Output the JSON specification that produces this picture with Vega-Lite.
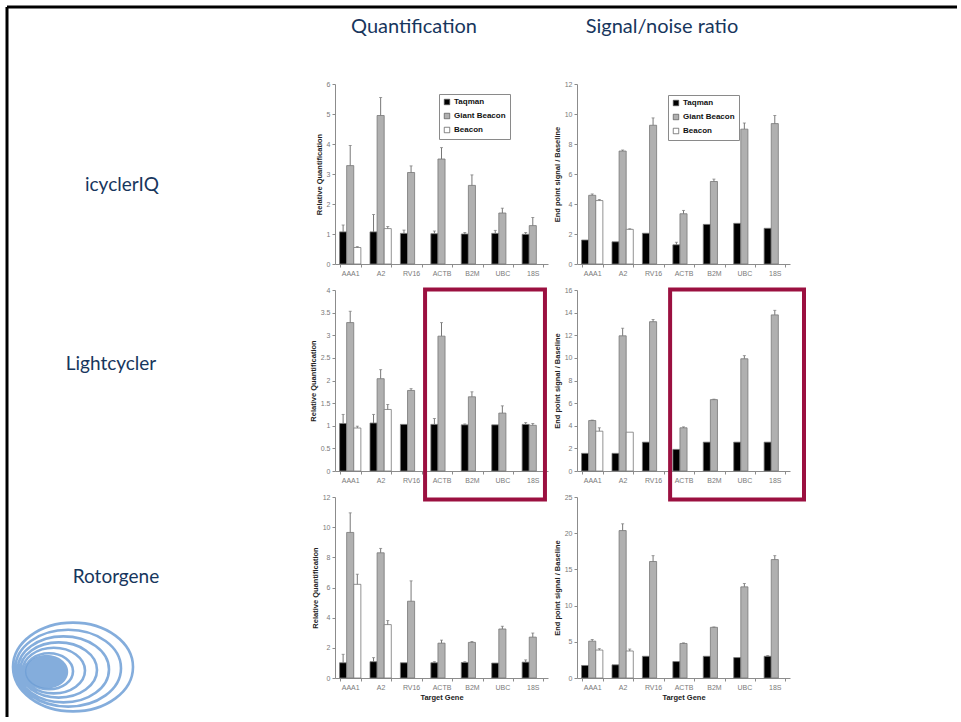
{
  "$schema": "https://vega.github.io/schema/vega-lite/v6.json",
  "padding": {"left": 5, "top": 5, "right": 0, "bottom": 0},
  "background": "white",
  "bounds": "flush",
  "align": "each",
  "columns": 3,
  "spacing": {"row": 26, "column": 29},
  "resolve": {"scale": {"fill": "independent"}, "legend": {"fill": "independent"}},
  "config": {
    "view": {"stroke": null},
    "font": "Liberation Sans",
    "axis": {"domainColor": "#8c8c8c", "tickColor": "#8c8c8c", "labelColor": "#7a7a7a", "labelFontSize": 7, "tickSize": 3, "labelPadding": 2, "titleFontSize": 7.5, "titleFontWeight": "bold", "titleColor": "#222222", "grid": false, "domainWidth": 1, "tickWidth": 1, "titlePadding": 3},
    "axisX": {"tickBand": "extent", "labelAngle": 0},
    "legend": {"title": null, "strokeColor": "#8a8a8a", "fillColor": "white", "padding": 4, "labelFontSize": 8, "labelFontWeight": "bold", "labelColor": "#111111", "symbolType": "square", "symbolSize": 30, "symbolStrokeColor": "#555555", "symbolStrokeWidth": 0.7, "rowPadding": 4, "labelOffset": 3}
  },
  "datasets": {
    "d": [
      {"p":"q1","g":"AAA1","s":"Taqman","v":1.07,"hi":1.3},
      {"p":"q1","g":"AAA1","s":"Giant Beacon","v":3.28,"hi":3.95},
      {"p":"q1","g":"AAA1","s":"Beacon","v":0.55,"hi":0.58},
      {"p":"q1","g":"A2","s":"Taqman","v":1.07,"hi":1.65},
      {"p":"q1","g":"A2","s":"Giant Beacon","v":4.95,"hi":5.55},
      {"p":"q1","g":"A2","s":"Beacon","v":1.18,"hi":1.25},
      {"p":"q1","g":"RV16","s":"Taqman","v":1.02,"hi":1.13},
      {"p":"q1","g":"RV16","s":"Giant Beacon","v":3.05,"hi":3.27},
      {"p":"q1","g":"ACTB","s":"Taqman","v":1.01,"hi":1.1},
      {"p":"q1","g":"ACTB","s":"Giant Beacon","v":3.5,"hi":3.88},
      {"p":"q1","g":"B2M","s":"Taqman","v":1.0,"hi":1.05},
      {"p":"q1","g":"B2M","s":"Giant Beacon","v":2.62,"hi":2.97},
      {"p":"q1","g":"UBC","s":"Taqman","v":1.02,"hi":1.12},
      {"p":"q1","g":"UBC","s":"Giant Beacon","v":1.7,"hi":1.86},
      {"p":"q1","g":"18S","s":"Taqman","v":0.99,"hi":1.05},
      {"p":"q1","g":"18S","s":"Giant Beacon","v":1.28,"hi":1.55},

      {"p":"s1","g":"AAA1","s":"Taqman","v":1.6,"hi":1.6},
      {"p":"s1","g":"AAA1","s":"Giant Beacon","v":4.58,"hi":4.67},
      {"p":"s1","g":"AAA1","s":"Beacon","v":4.23,"hi":4.3},
      {"p":"s1","g":"A2","s":"Taqman","v":1.48,"hi":1.48},
      {"p":"s1","g":"A2","s":"Giant Beacon","v":7.53,"hi":7.6},
      {"p":"s1","g":"A2","s":"Beacon","v":2.31,"hi":2.35},
      {"p":"s1","g":"RV16","s":"Taqman","v":2.05,"hi":2.05},
      {"p":"s1","g":"RV16","s":"Giant Beacon","v":9.25,"hi":9.74},
      {"p":"s1","g":"ACTB","s":"Taqman","v":1.28,"hi":1.45},
      {"p":"s1","g":"ACTB","s":"Giant Beacon","v":3.35,"hi":3.57},
      {"p":"s1","g":"B2M","s":"Taqman","v":2.64,"hi":2.64},
      {"p":"s1","g":"B2M","s":"Giant Beacon","v":5.5,"hi":5.66},
      {"p":"s1","g":"UBC","s":"Taqman","v":2.71,"hi":2.71},
      {"p":"s1","g":"UBC","s":"Giant Beacon","v":8.99,"hi":9.4},
      {"p":"s1","g":"18S","s":"Taqman","v":2.38,"hi":2.38},
      {"p":"s1","g":"18S","s":"Giant Beacon","v":9.36,"hi":9.9},

      {"p":"q2","g":"AAA1","s":"Taqman","v":1.05,"hi":1.25},
      {"p":"q2","g":"AAA1","s":"Giant Beacon","v":3.28,"hi":3.53},
      {"p":"q2","g":"AAA1","s":"Beacon","v":0.95,"hi":0.99},
      {"p":"q2","g":"A2","s":"Taqman","v":1.06,"hi":1.25},
      {"p":"q2","g":"A2","s":"Giant Beacon","v":2.04,"hi":2.24},
      {"p":"q2","g":"A2","s":"Beacon","v":1.36,"hi":1.47},
      {"p":"q2","g":"RV16","s":"Taqman","v":1.03,"hi":1.03},
      {"p":"q2","g":"RV16","s":"Giant Beacon","v":1.78,"hi":1.82},
      {"p":"q2","g":"ACTB","s":"Taqman","v":1.03,"hi":1.16},
      {"p":"q2","g":"ACTB","s":"Giant Beacon","v":2.98,"hi":3.28},
      {"p":"q2","g":"B2M","s":"Taqman","v":1.02,"hi":1.04},
      {"p":"q2","g":"B2M","s":"Giant Beacon","v":1.64,"hi":1.75},
      {"p":"q2","g":"UBC","s":"Taqman","v":1.02,"hi":1.02},
      {"p":"q2","g":"UBC","s":"Giant Beacon","v":1.28,"hi":1.44},
      {"p":"q2","g":"18S","s":"Taqman","v":1.03,"hi":1.07},
      {"p":"q2","g":"18S","s":"Giant Beacon","v":1.01,"hi":1.05},

      {"p":"s2","g":"AAA1","s":"Taqman","v":1.56,"hi":1.56},
      {"p":"s2","g":"AAA1","s":"Giant Beacon","v":4.46,"hi":4.5},
      {"p":"s2","g":"AAA1","s":"Beacon","v":3.52,"hi":3.82},
      {"p":"s2","g":"A2","s":"Taqman","v":1.56,"hi":1.56},
      {"p":"s2","g":"A2","s":"Giant Beacon","v":11.95,"hi":12.62},
      {"p":"s2","g":"A2","s":"Beacon","v":3.43,"hi":3.43},
      {"p":"s2","g":"RV16","s":"Taqman","v":2.55,"hi":2.55},
      {"p":"s2","g":"RV16","s":"Giant Beacon","v":13.2,"hi":13.39},
      {"p":"s2","g":"ACTB","s":"Taqman","v":1.91,"hi":1.91},
      {"p":"s2","g":"ACTB","s":"Giant Beacon","v":3.82,"hi":3.9},
      {"p":"s2","g":"B2M","s":"Taqman","v":2.55,"hi":2.55},
      {"p":"s2","g":"B2M","s":"Giant Beacon","v":6.31,"hi":6.35},
      {"p":"s2","g":"UBC","s":"Taqman","v":2.55,"hi":2.55},
      {"p":"s2","g":"UBC","s":"Giant Beacon","v":9.92,"hi":10.2},
      {"p":"s2","g":"18S","s":"Taqman","v":2.55,"hi":2.55},
      {"p":"s2","g":"18S","s":"Giant Beacon","v":13.8,"hi":14.2},

      {"p":"q3","g":"AAA1","s":"Taqman","v":1.01,"hi":1.57},
      {"p":"q3","g":"AAA1","s":"Giant Beacon","v":9.65,"hi":10.95},
      {"p":"q3","g":"AAA1","s":"Beacon","v":6.21,"hi":6.88},
      {"p":"q3","g":"A2","s":"Taqman","v":1.08,"hi":1.35},
      {"p":"q3","g":"A2","s":"Giant Beacon","v":8.3,"hi":8.59},
      {"p":"q3","g":"A2","s":"Beacon","v":3.54,"hi":3.81},
      {"p":"q3","g":"RV16","s":"Taqman","v":1.01,"hi":1.01},
      {"p":"q3","g":"RV16","s":"Giant Beacon","v":5.09,"hi":6.44},
      {"p":"q3","g":"ACTB","s":"Taqman","v":1.01,"hi":1.08},
      {"p":"q3","g":"ACTB","s":"Giant Beacon","v":2.31,"hi":2.51},
      {"p":"q3","g":"B2M","s":"Taqman","v":1.03,"hi":1.08},
      {"p":"q3","g":"B2M","s":"Giant Beacon","v":2.36,"hi":2.42},
      {"p":"q3","g":"UBC","s":"Taqman","v":0.99,"hi":0.99},
      {"p":"q3","g":"UBC","s":"Giant Beacon","v":3.25,"hi":3.43},
      {"p":"q3","g":"18S","s":"Taqman","v":1.05,"hi":1.2},
      {"p":"q3","g":"18S","s":"Giant Beacon","v":2.71,"hi":2.98},

      {"p":"s3","g":"AAA1","s":"Taqman","v":1.73,"hi":1.73},
      {"p":"s3","g":"AAA1","s":"Giant Beacon","v":5.09,"hi":5.32},
      {"p":"s3","g":"AAA1","s":"Beacon","v":3.86,"hi":4.05},
      {"p":"s3","g":"A2","s":"Taqman","v":1.82,"hi":1.82},
      {"p":"s3","g":"A2","s":"Giant Beacon","v":20.36,"hi":21.3},
      {"p":"s3","g":"A2","s":"Beacon","v":3.73,"hi":4.0},
      {"p":"s3","g":"RV16","s":"Taqman","v":3.0,"hi":3.0},
      {"p":"s3","g":"RV16","s":"Giant Beacon","v":16.09,"hi":16.9},
      {"p":"s3","g":"ACTB","s":"Taqman","v":2.27,"hi":2.27},
      {"p":"s3","g":"ACTB","s":"Giant Beacon","v":4.77,"hi":4.85},
      {"p":"s3","g":"B2M","s":"Taqman","v":3.0,"hi":3.0},
      {"p":"s3","g":"B2M","s":"Giant Beacon","v":7.0,"hi":7.05},
      {"p":"s3","g":"UBC","s":"Taqman","v":2.82,"hi":2.82},
      {"p":"s3","g":"UBC","s":"Giant Beacon","v":12.59,"hi":13.05},
      {"p":"s3","g":"18S","s":"Taqman","v":3.0,"hi":3.1},
      {"p":"s3","g":"18S","s":"Giant Beacon","v":16.36,"hi":16.9}
    ]
  },
  "concat": [
    {
      "width": 299,
      "height": 51,
      "layer": [
        {
          "data": {"values": [{"x": 0, "y": 0, "x2": 0, "y2": 710}, {"x": 0, "y": 0, "x2": 950, "y2": 0}]},
          "mark": {"type": "rule", "color": "black", "strokeWidth": 3},
          "encoding": {
            "x": {"field": "x", "type": "quantitative", "scale": {"domain": [0, 299], "nice": false, "zero": false}, "axis": null},
            "x2": {"field": "x2"},
            "y": {"field": "y", "type": "quantitative", "scale": {"domain": [0, 51], "nice": false, "zero": false, "reverse": true}, "axis": null},
            "y2": {"field": "y2"}
          }
        },
        {
          "data": {"values": [{"x": 66, "y": 660}]},
          "mark": {"type": "point", "shape": "M -0.8 0.08 A 0.36 0.28 0 1 0 -0.08 0.08 A 0.36 0.28 0 1 0 -0.8 0.08 Z", "size": 14400, "filled": true, "fill": "#6f9fd6", "opacity": 0.85, "strokeWidth": 0},
          "encoding": {
            "x": {"field": "x", "type": "quantitative", "axis": null},
            "y": {"field": "y", "type": "quantitative", "axis": null}
          }
        },
        {
          "data": {"values": [{"x": 66, "y": 660}]},
          "mark": {"type": "point", "shape": "M -1 0 A 1 0.74 0 1 0 1 0 A 1 0.74 0 1 0 -1 0 Z M -0.96 0.02 A 0.88 0.64 0 1 0 0.8 0.02 A 0.88 0.64 0 1 0 -0.96 0.02 Z M -0.92 0.04 A 0.76 0.55 0 1 0 0.6 0.04 A 0.76 0.55 0 1 0 -0.92 0.04 Z M -0.88 0.05 A 0.64 0.46 0 1 0 0.4 0.05 A 0.64 0.46 0 1 0 -0.88 0.05 Z M -0.84 0.06 A 0.52 0.38 0 1 0 0.2 0.06 A 0.52 0.38 0 1 0 -0.84 0.06 Z M -0.8 0.07 A 0.4 0.3 0 1 0 0 0.07 A 0.4 0.3 0 1 0 -0.8 0.07 Z", "size": 14400, "filled": false, "stroke": "#6f9fd6", "strokeWidth": 2.6, "opacity": 0.85},
          "encoding": {
            "x": {"field": "x", "type": "quantitative", "axis": null},
            "y": {"field": "y", "type": "quantitative", "axis": null}
          }
        }
      ]
    },
    {
      "width": 213,
      "height": 51,
      "data": {"values": [{"t": "Quantification", "x": 79, "y": 20}]},
      "mark": {"type": "text", "font": "Lato", "fontSize": 20, "color": "#17365d", "align": "center", "baseline": "middle"},
      "encoding": {
        "x": {"field": "x", "type": "quantitative", "scale": {"domain": [0, 213], "nice": false, "zero": false}, "axis": null},
        "y": {"field": "y", "type": "quantitative", "scale": {"domain": [0, 51], "nice": false, "zero": false, "reverse": true}, "axis": null},
        "text": {"field": "t"}
      }
    },
    {
      "width": 213,
      "height": 51,
      "data": {"values": [{"t": "Signal/noise ratio", "x": 85, "y": 20}]},
      "mark": {"type": "text", "font": "Lato", "fontSize": 20, "color": "#17365d", "align": "center", "baseline": "middle"},
      "encoding": {
        "x": {"field": "x", "type": "quantitative", "scale": {"domain": [0, 213], "nice": false, "zero": false}, "axis": null},
        "y": {"field": "y", "type": "quantitative", "scale": {"domain": [0, 51], "nice": false, "zero": false, "reverse": true}, "axis": null},
        "text": {"field": "t"}
      }
    },
    {
      "width": 299,
      "height": 180,
      "data": {"values": [{"t": "icyclerIQ", "x": 115, "y": 101}]},
      "mark": {"type": "text", "font": "Lato", "fontSize": 19, "color": "#17365d", "align": "center", "baseline": "middle"},
      "encoding": {
        "x": {"field": "x", "type": "quantitative", "scale": {"domain": [0, 299], "nice": false, "zero": false}, "axis": null},
        "y": {"field": "y", "type": "quantitative", "scale": {"domain": [0, 180], "nice": false, "zero": false, "reverse": true}, "axis": null},
        "text": {"field": "t"}
      }
    },
    {
      "width": 213, "height": 180,
      "data": {"name": "d"},
      "layer": [
        {
          "transform": [{"filter": "datum.p === 'q1'"}],
          "mark": {"type": "bar", "stroke": "#777777", "strokeWidth": 0.8},
          "encoding": {
            "x": {"field": "g", "type": "nominal", "scale": {"domain": ["AAA1","A2","RV16","ACTB","B2M","UBC","18S"], "paddingInner": 0.3, "paddingOuter": 0.15}, "axis": {"title": null, "orient": "bottom"}},
            "xOffset": {"field": "s", "scale": {"domain": ["Taqman","Giant Beacon","Beacon"], "paddingInner": 0, "paddingOuter": 0}},
            "y": {"field": "v", "type": "quantitative", "scale": {"domain": [0, 6], "nice": false}, "axis": {"values": [0,1,2,3,4,5,6], "format": "~g", "title": "Relative Quantification", "orient": "left"}},
            "fill": {"field": "s", "type": "nominal", "scale": {"domain": ["Taqman","Giant Beacon","Beacon"], "range": ["#000000","#b0b0b0","#ffffff"]}, "legend": {"orient": "none", "legendX": 104, "legendY": 10}}
          }
        },
        {
          "transform": [{"filter": "datum.p === 'q1' && datum.hi > datum.v"}],
          "mark": {"type": "rule", "color": "#777777", "strokeWidth": 1},
          "encoding": {
            "x": {"field": "g", "type": "nominal", "scale": {"domain": ["AAA1","A2","RV16","ACTB","B2M","UBC","18S"], "paddingInner": 0.3, "paddingOuter": 0.15}, "axis": {"title": null, "orient": "bottom"}},
            "xOffset": {"field": "s", "scale": {"domain": ["Taqman","Giant Beacon","Beacon"], "paddingInner": 0, "paddingOuter": 0}},
            "y": {"field": "v", "type": "quantitative", "scale": {"domain": [0, 6], "nice": false}, "axis": {"values": [0,1,2,3,4,5,6], "format": "~g", "title": "Relative Quantification", "orient": "left"}},
            "y2": {"field": "hi"}
          }
        },
        {
          "transform": [{"filter": "datum.p === 'q1' && datum.hi > datum.v"}],
          "mark": {"type": "tick", "color": "#777777", "size": 3, "thickness": 1},
          "encoding": {
            "x": {"field": "g", "type": "nominal", "scale": {"domain": ["AAA1","A2","RV16","ACTB","B2M","UBC","18S"], "paddingInner": 0.3, "paddingOuter": 0.15}, "axis": {"title": null, "orient": "bottom"}},
            "xOffset": {"field": "s", "scale": {"domain": ["Taqman","Giant Beacon","Beacon"], "paddingInner": 0, "paddingOuter": 0}},
            "y": {"field": "hi", "type": "quantitative", "scale": {"domain": [0, 6], "nice": false}, "axis": {"values": [0,1,2,3,4,5,6], "format": "~g", "title": "Relative Quantification", "orient": "left"}}
          }
        }
      ]
    },
    {
      "width": 213, "height": 180,
      "data": {"name": "d"},
      "layer": [
        {
          "transform": [{"filter": "datum.p === 's1'"}],
          "mark": {"type": "bar", "stroke": "#777777", "strokeWidth": 0.8},
          "encoding": {
            "x": {"field": "g", "type": "nominal", "scale": {"domain": ["AAA1","A2","RV16","ACTB","B2M","UBC","18S"], "paddingInner": 0.3, "paddingOuter": 0.15}, "axis": {"title": null, "orient": "bottom"}},
            "xOffset": {"field": "s", "scale": {"domain": ["Taqman","Giant Beacon","Beacon"], "paddingInner": 0, "paddingOuter": 0}},
            "y": {"field": "v", "type": "quantitative", "scale": {"domain": [0, 12], "nice": false}, "axis": {"values": [0,2,4,6,8,10,12], "format": "~g", "title": "End point signal / Baseline", "orient": "left"}},
            "fill": {"field": "s", "type": "nominal", "scale": {"domain": ["Taqman","Giant Beacon","Beacon"], "range": ["#000000","#b0b0b0","#ffffff"]}, "legend": {"orient": "none", "legendX": 91, "legendY": 11}}
          }
        },
        {
          "transform": [{"filter": "datum.p === 's1' && datum.hi > datum.v"}],
          "mark": {"type": "rule", "color": "#777777", "strokeWidth": 1},
          "encoding": {
            "x": {"field": "g", "type": "nominal", "scale": {"domain": ["AAA1","A2","RV16","ACTB","B2M","UBC","18S"], "paddingInner": 0.3, "paddingOuter": 0.15}, "axis": {"title": null, "orient": "bottom"}},
            "xOffset": {"field": "s", "scale": {"domain": ["Taqman","Giant Beacon","Beacon"], "paddingInner": 0, "paddingOuter": 0}},
            "y": {"field": "v", "type": "quantitative", "scale": {"domain": [0, 12], "nice": false}, "axis": {"values": [0,2,4,6,8,10,12], "format": "~g", "title": "End point signal / Baseline", "orient": "left"}},
            "y2": {"field": "hi"}
          }
        },
        {
          "transform": [{"filter": "datum.p === 's1' && datum.hi > datum.v"}],
          "mark": {"type": "tick", "color": "#777777", "size": 3, "thickness": 1},
          "encoding": {
            "x": {"field": "g", "type": "nominal", "scale": {"domain": ["AAA1","A2","RV16","ACTB","B2M","UBC","18S"], "paddingInner": 0.3, "paddingOuter": 0.15}, "axis": {"title": null, "orient": "bottom"}},
            "xOffset": {"field": "s", "scale": {"domain": ["Taqman","Giant Beacon","Beacon"], "paddingInner": 0, "paddingOuter": 0}},
            "y": {"field": "hi", "type": "quantitative", "scale": {"domain": [0, 12], "nice": false}, "axis": {"values": [0,2,4,6,8,10,12], "format": "~g", "title": "End point signal / Baseline", "orient": "left"}}
          }
        }
      ]
    },
    {
      "width": 299,
      "height": 181,
      "data": {"values": [{"t": "Lightcycler", "x": 104, "y": 74}]},
      "mark": {"type": "text", "font": "Lato", "fontSize": 19, "color": "#17365d", "align": "center", "baseline": "middle"},
      "encoding": {
        "x": {"field": "x", "type": "quantitative", "scale": {"domain": [0, 299], "nice": false, "zero": false}, "axis": null},
        "y": {"field": "y", "type": "quantitative", "scale": {"domain": [0, 181], "nice": false, "zero": false, "reverse": true}, "axis": null},
        "text": {"field": "t"}
      }
    },
    {
      "width": 213, "height": 181,
      "data": {"name": "d"},
      "resolve": {"scale": {"x": "independent", "y": "independent"}},
      "layer": [
        {
          "layer": [
            {
              "transform": [{"filter": "datum.p === 'q2'"}],
              "mark": {"type": "bar", "stroke": "#777777", "strokeWidth": 0.8},
              "encoding": {
                "x": {"field": "g", "type": "nominal", "scale": {"domain": ["AAA1","A2","RV16","ACTB","B2M","UBC","18S"], "paddingInner": 0.3, "paddingOuter": 0.15}, "axis": {"title": null, "orient": "bottom"}},
                "xOffset": {"field": "s", "scale": {"domain": ["Taqman","Giant Beacon","Beacon"], "paddingInner": 0, "paddingOuter": 0}},
                "y": {"field": "v", "type": "quantitative", "scale": {"domain": [0, 4], "nice": false}, "axis": {"values": [0,0.5,1,1.5,2,2.5,3,3.5,4], "format": "~g", "title": "Relative Quantification", "orient": "left"}},
                "fill": {"field": "s", "type": "nominal", "scale": {"domain": ["Taqman","Giant Beacon","Beacon"], "range": ["#000000","#b0b0b0","#ffffff"]}, "legend": null}
              }
            },
            {
              "transform": [{"filter": "datum.p === 'q2' && datum.hi > datum.v"}],
              "mark": {"type": "rule", "color": "#777777", "strokeWidth": 1},
              "encoding": {
                "x": {"field": "g", "type": "nominal", "scale": {"domain": ["AAA1","A2","RV16","ACTB","B2M","UBC","18S"], "paddingInner": 0.3, "paddingOuter": 0.15}, "axis": {"title": null, "orient": "bottom"}},
                "xOffset": {"field": "s", "scale": {"domain": ["Taqman","Giant Beacon","Beacon"], "paddingInner": 0, "paddingOuter": 0}},
                "y": {"field": "v", "type": "quantitative", "scale": {"domain": [0, 4], "nice": false}, "axis": {"values": [0,0.5,1,1.5,2,2.5,3,3.5,4], "format": "~g", "title": "Relative Quantification", "orient": "left"}},
                "y2": {"field": "hi"}
              }
            },
            {
              "transform": [{"filter": "datum.p === 'q2' && datum.hi > datum.v"}],
              "mark": {"type": "tick", "color": "#777777", "size": 3, "thickness": 1},
              "encoding": {
                "x": {"field": "g", "type": "nominal", "scale": {"domain": ["AAA1","A2","RV16","ACTB","B2M","UBC","18S"], "paddingInner": 0.3, "paddingOuter": 0.15}, "axis": {"title": null, "orient": "bottom"}},
                "xOffset": {"field": "s", "scale": {"domain": ["Taqman","Giant Beacon","Beacon"], "paddingInner": 0, "paddingOuter": 0}},
                "y": {"field": "hi", "type": "quantitative", "scale": {"domain": [0, 4], "nice": false}, "axis": {"values": [0,0.5,1,1.5,2,2.5,3,3.5,4], "format": "~g", "title": "Relative Quantification", "orient": "left"}}
              }
            }
          ]
        },
        {
          "data": {"values": [{"x1": 2.96, "x2": 6.9, "y1": 4.011, "y2": -0.63}]},
          "mark": {"type": "rect", "fill": null, "stroke": "#9b1040", "strokeWidth": 4, "clip": false},
          "encoding": {
            "x": {"field": "x1", "type": "quantitative", "scale": {"domain": [0, 7], "nice": false, "zero": false}, "axis": null},
            "x2": {"field": "x2"},
            "y": {"field": "y1", "type": "quantitative", "scale": {"domain": [0, 4], "nice": false, "zero": false}, "axis": null},
            "y2": {"field": "y2"}
          }
        }
      ]
    },
    {
      "width": 213, "height": 181,
      "data": {"name": "d"},
      "resolve": {"scale": {"x": "independent", "y": "independent"}},
      "layer": [
        {
          "layer": [
            {
              "transform": [{"filter": "datum.p === 's2'"}],
              "mark": {"type": "bar", "stroke": "#777777", "strokeWidth": 0.8},
              "encoding": {
                "x": {"field": "g", "type": "nominal", "scale": {"domain": ["AAA1","A2","RV16","ACTB","B2M","UBC","18S"], "paddingInner": 0.3, "paddingOuter": 0.15}, "axis": {"title": null, "orient": "bottom"}},
                "xOffset": {"field": "s", "scale": {"domain": ["Taqman","Giant Beacon","Beacon"], "paddingInner": 0, "paddingOuter": 0}},
                "y": {"field": "v", "type": "quantitative", "scale": {"domain": [0, 16], "nice": false}, "axis": {"values": [0,2,4,6,8,10,12,14,16], "format": "~g", "title": "End point signal / Baseline", "orient": "left"}},
                "fill": {"field": "s", "type": "nominal", "scale": {"domain": ["Taqman","Giant Beacon","Beacon"], "range": ["#000000","#b0b0b0","#ffffff"]}, "legend": null}
              }
            },
            {
              "transform": [{"filter": "datum.p === 's2' && datum.hi > datum.v"}],
              "mark": {"type": "rule", "color": "#777777", "strokeWidth": 1},
              "encoding": {
                "x": {"field": "g", "type": "nominal", "scale": {"domain": ["AAA1","A2","RV16","ACTB","B2M","UBC","18S"], "paddingInner": 0.3, "paddingOuter": 0.15}, "axis": {"title": null, "orient": "bottom"}},
                "xOffset": {"field": "s", "scale": {"domain": ["Taqman","Giant Beacon","Beacon"], "paddingInner": 0, "paddingOuter": 0}},
                "y": {"field": "v", "type": "quantitative", "scale": {"domain": [0, 16], "nice": false}, "axis": {"values": [0,2,4,6,8,10,12,14,16], "format": "~g", "title": "End point signal / Baseline", "orient": "left"}},
                "y2": {"field": "hi"}
              }
            },
            {
              "transform": [{"filter": "datum.p === 's2' && datum.hi > datum.v"}],
              "mark": {"type": "tick", "color": "#777777", "size": 3, "thickness": 1},
              "encoding": {
                "x": {"field": "g", "type": "nominal", "scale": {"domain": ["AAA1","A2","RV16","ACTB","B2M","UBC","18S"], "paddingInner": 0.3, "paddingOuter": 0.15}, "axis": {"title": null, "orient": "bottom"}},
                "xOffset": {"field": "s", "scale": {"domain": ["Taqman","Giant Beacon","Beacon"], "paddingInner": 0, "paddingOuter": 0}},
                "y": {"field": "hi", "type": "quantitative", "scale": {"domain": [0, 16], "nice": false}, "axis": {"values": [0,2,4,6,8,10,12,14,16], "format": "~g", "title": "End point signal / Baseline", "orient": "left"}}
              }
            }
          ]
        },
        {
          "data": {"values": [{"x1": 3.06, "x2": 7.46, "y1": 16.04, "y2": -2.52}]},
          "mark": {"type": "rect", "fill": null, "stroke": "#9b1040", "strokeWidth": 4, "clip": false},
          "encoding": {
            "x": {"field": "x1", "type": "quantitative", "scale": {"domain": [0, 7], "nice": false, "zero": false}, "axis": null},
            "x2": {"field": "x2"},
            "y": {"field": "y1", "type": "quantitative", "scale": {"domain": [0, 16], "nice": false, "zero": false}, "axis": null},
            "y2": {"field": "y2"}
          }
        }
      ]
    },
    {
      "width": 299,
      "height": 181,
      "data": {"values": [{"t": "Rotorgene", "x": 109, "y": 80}]},
      "mark": {"type": "text", "font": "Lato", "fontSize": 19, "color": "#17365d", "align": "center", "baseline": "middle"},
      "encoding": {
        "x": {"field": "x", "type": "quantitative", "scale": {"domain": [0, 299], "nice": false, "zero": false}, "axis": null},
        "y": {"field": "y", "type": "quantitative", "scale": {"domain": [0, 181], "nice": false, "zero": false, "reverse": true}, "axis": null},
        "text": {"field": "t"}
      }
    },
    {
      "width": 213, "height": 181,
      "data": {"name": "d"},
      "layer": [
        {
          "transform": [{"filter": "datum.p === 'q3'"}],
          "mark": {"type": "bar", "stroke": "#777777", "strokeWidth": 0.8},
          "encoding": {
            "x": {"field": "g", "type": "nominal", "scale": {"domain": ["AAA1","A2","RV16","ACTB","B2M","UBC","18S"], "paddingInner": 0.3, "paddingOuter": 0.15}, "axis": {"title": "Target Gene", "orient": "bottom"}},
            "xOffset": {"field": "s", "scale": {"domain": ["Taqman","Giant Beacon","Beacon"], "paddingInner": 0, "paddingOuter": 0}},
            "y": {"field": "v", "type": "quantitative", "scale": {"domain": [0, 12], "nice": false}, "axis": {"values": [0,2,4,6,8,10,12], "format": "~g", "title": "Relative Quantification", "orient": "left"}},
            "fill": {"field": "s", "type": "nominal", "scale": {"domain": ["Taqman","Giant Beacon","Beacon"], "range": ["#000000","#b0b0b0","#ffffff"]}, "legend": null}
          }
        },
        {
          "transform": [{"filter": "datum.p === 'q3' && datum.hi > datum.v"}],
          "mark": {"type": "rule", "color": "#777777", "strokeWidth": 1},
          "encoding": {
            "x": {"field": "g", "type": "nominal", "scale": {"domain": ["AAA1","A2","RV16","ACTB","B2M","UBC","18S"], "paddingInner": 0.3, "paddingOuter": 0.15}, "axis": {"title": "Target Gene", "orient": "bottom"}},
            "xOffset": {"field": "s", "scale": {"domain": ["Taqman","Giant Beacon","Beacon"], "paddingInner": 0, "paddingOuter": 0}},
            "y": {"field": "v", "type": "quantitative", "scale": {"domain": [0, 12], "nice": false}, "axis": {"values": [0,2,4,6,8,10,12], "format": "~g", "title": "Relative Quantification", "orient": "left"}},
            "y2": {"field": "hi"}
          }
        },
        {
          "transform": [{"filter": "datum.p === 'q3' && datum.hi > datum.v"}],
          "mark": {"type": "tick", "color": "#777777", "size": 3, "thickness": 1},
          "encoding": {
            "x": {"field": "g", "type": "nominal", "scale": {"domain": ["AAA1","A2","RV16","ACTB","B2M","UBC","18S"], "paddingInner": 0.3, "paddingOuter": 0.15}, "axis": {"title": "Target Gene", "orient": "bottom"}},
            "xOffset": {"field": "s", "scale": {"domain": ["Taqman","Giant Beacon","Beacon"], "paddingInner": 0, "paddingOuter": 0}},
            "y": {"field": "hi", "type": "quantitative", "scale": {"domain": [0, 12], "nice": false}, "axis": {"values": [0,2,4,6,8,10,12], "format": "~g", "title": "Relative Quantification", "orient": "left"}}
          }
        }
      ]
    },
    {
      "width": 213, "height": 181,
      "data": {"name": "d"},
      "layer": [
        {
          "transform": [{"filter": "datum.p === 's3'"}],
          "mark": {"type": "bar", "stroke": "#777777", "strokeWidth": 0.8},
          "encoding": {
            "x": {"field": "g", "type": "nominal", "scale": {"domain": ["AAA1","A2","RV16","ACTB","B2M","UBC","18S"], "paddingInner": 0.3, "paddingOuter": 0.15}, "axis": {"title": "Target Gene", "orient": "bottom"}},
            "xOffset": {"field": "s", "scale": {"domain": ["Taqman","Giant Beacon","Beacon"], "paddingInner": 0, "paddingOuter": 0}},
            "y": {"field": "v", "type": "quantitative", "scale": {"domain": [0, 25], "nice": false}, "axis": {"values": [0,5,10,15,20,25], "format": "~g", "title": "End point signal / Baseline", "orient": "left"}},
            "fill": {"field": "s", "type": "nominal", "scale": {"domain": ["Taqman","Giant Beacon","Beacon"], "range": ["#000000","#b0b0b0","#ffffff"]}, "legend": null}
          }
        },
        {
          "transform": [{"filter": "datum.p === 's3' && datum.hi > datum.v"}],
          "mark": {"type": "rule", "color": "#777777", "strokeWidth": 1},
          "encoding": {
            "x": {"field": "g", "type": "nominal", "scale": {"domain": ["AAA1","A2","RV16","ACTB","B2M","UBC","18S"], "paddingInner": 0.3, "paddingOuter": 0.15}, "axis": {"title": "Target Gene", "orient": "bottom"}},
            "xOffset": {"field": "s", "scale": {"domain": ["Taqman","Giant Beacon","Beacon"], "paddingInner": 0, "paddingOuter": 0}},
            "y": {"field": "v", "type": "quantitative", "scale": {"domain": [0, 25], "nice": false}, "axis": {"values": [0,5,10,15,20,25], "format": "~g", "title": "End point signal / Baseline", "orient": "left"}},
            "y2": {"field": "hi"}
          }
        },
        {
          "transform": [{"filter": "datum.p === 's3' && datum.hi > datum.v"}],
          "mark": {"type": "tick", "color": "#777777", "size": 3, "thickness": 1},
          "encoding": {
            "x": {"field": "g", "type": "nominal", "scale": {"domain": ["AAA1","A2","RV16","ACTB","B2M","UBC","18S"], "paddingInner": 0.3, "paddingOuter": 0.15}, "axis": {"title": "Target Gene", "orient": "bottom"}},
            "xOffset": {"field": "s", "scale": {"domain": ["Taqman","Giant Beacon","Beacon"], "paddingInner": 0, "paddingOuter": 0}},
            "y": {"field": "hi", "type": "quantitative", "scale": {"domain": [0, 25], "nice": false}, "axis": {"values": [0,5,10,15,20,25], "format": "~g", "title": "End point signal / Baseline", "orient": "left"}}
          }
        }
      ]
    }
  ]
}
